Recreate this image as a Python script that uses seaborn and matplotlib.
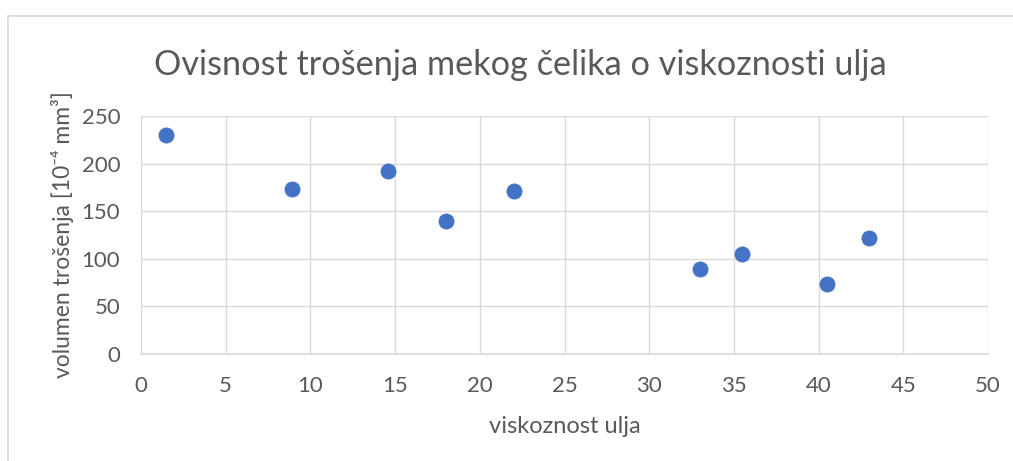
import matplotlib
matplotlib.use("Agg")
import matplotlib.pyplot as plt
import seaborn as sns
import pandas as pd
from matplotlib.patches import Rectangle

# Oil viscosity vs. wear volume of mild steel
viskoznost = [1.5, 8.9, 14.6, 18.0, 22.0, 33.0, 35.5, 40.5, 43.0]
volumen = [230, 173, 192, 140, 171, 89, 105, 74, 122]

x_ticks = [0, 5, 10, 15, 20, 25, 30, 35, 40, 45, 50]
y_ticks = [0, 50, 100, 150, 200, 250]

title = "Ovisnost trošenja mekog čelika o viskoznosti ulja"
x_label = "viskoznost ulja"
y_label = "volumen trošenja [10\u207b\u2074 mm\u00b3]"

sns.set_theme(style="white")
plt.rcParams["font.family"] = ["Lato", "DejaVu Sans"]

df = pd.DataFrame({"x": viskoznost, "y": volumen})

text_col = "#595959"
grid_col = "#d9d9d9"
blue = "#4472C4"

W, H = 1013, 461
fig = plt.figure(figsize=(W / 100, H / 100), dpi=100)
ax = fig.add_axes([141 / W, 1 - 354 / H, (988 - 141) / W, (354 - 116) / H])

# chart frame
fig.patches.append(Rectangle((8 / W, -0.05), 1.1, 1 - 16 / H + 0.05,
                             transform=fig.transFigure, fill=False,
                             edgecolor=grid_col, linewidth=1.2))

sns.scatterplot(data=df, x="x", y="y", ax=ax, color=blue, s=120,
                edgecolor=blue, linewidth=0.5, zorder=3)

ax.set_xlim(0, 50)
ax.set_ylim(0, 250)
ax.set_xticks(x_ticks)
ax.set_yticks(y_ticks)
ax.grid(True, color=grid_col, linewidth=1.0)
ax.set_axisbelow(True)
for side in ["top", "right", "left"]:
    ax.spines[side].set_visible(False)
ax.spines["bottom"].set_color(grid_col)
ax.spines["bottom"].set_linewidth(1.2)

ax.tick_params(axis="x", direction="in", length=6, color="#bfbfbf",
               labelsize=16, labelcolor=text_col, pad=16)
ax.tick_params(axis="y", length=0, labelsize=16, labelcolor=text_col, pad=15)

ax.set_xlabel(x_label, fontsize=17, color=text_col, va="center")
ax.set_ylabel(y_label, fontsize=16.5, color=text_col, va="center")
ax.xaxis.set_label_coords((565 - 141) / (988 - 141), -(426 - 354) / (354 - 116))
ax.yaxis.set_label_coords(-(141 - 62) / (988 - 141), (354 - 235) / (354 - 116))

fig.text(520 / W, 1 - 65 / H, title, ha="center", va="center",
         fontsize=24.7, color=text_col)

fig.savefig("out.png", dpi=100)
